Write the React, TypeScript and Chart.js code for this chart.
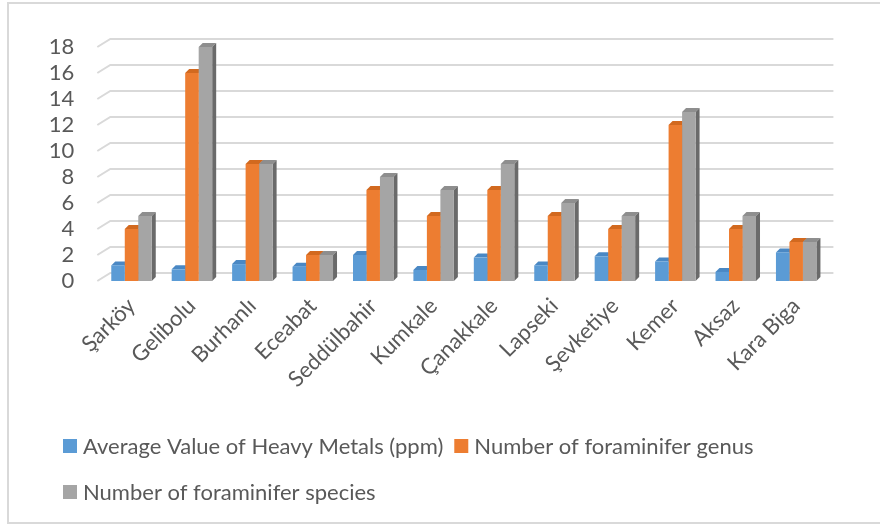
import React, { useEffect, useRef } from "react";
import { Chart, registerables } from "chart.js";
Chart.register(...registerables);

const categories = ["Şarköy", "Gelibolu", "Burhanlı", "Eceabat", "Seddülbahir", "Kumkale", "Çanakkale", "Lapseki", "Şevketiye", "Kemer", "Aksaz", "Kara Biga"];
const heavyMetals = [1.2, 0.9, 1.3, 1.1, 2.0, 0.85, 1.8, 1.2, 1.9, 1.5, 0.7, 2.2];
const genusCount = [4, 16, 9, 2, 7, 5, 7, 5, 4, 12, 4, 3];
const speciesCount = [5, 18, 9, 2, 8, 7, 9, 6, 5, 13, 5, 3];
const yTickValues = [0, 2, 4, 6, 8, 10, 12, 14, 16, 18];
const seriesLabels = ["Average Value of Heavy Metals (ppm)", "Number of foraminifer genus", "Number of foraminifer species"];
const frontColors = ["#5B9BD5", "#ED7D31", "#A5A5A5"];
const topColors = ["#4A88C4", "#D2691F", "#8E8E8E"];
const sideColors = ["#3C6E9E", "#A9541A", "#6A6A6A"];

const FONT = "Lato, 'Open Sans', sans-serif";
const TEXT = "#595959";

const backdropPlugin = {
  id: "backdrop3d",
  beforeDatasetsDraw(chart: any) {
    const { ctx, chartArea, scales } = chart;
    const ys = scales.y;
    ctx.save();
    ctx.strokeStyle = "#d9d9d9";
    ctx.lineWidth = 2;
    for (const v of yTickValues) {
      const y = ys.getPixelForValue(v);
      ctx.beginPath();
      ctx.moveTo(chartArea.left - 4, y);
      ctx.lineTo(chartArea.left + 9, y - 8);
      ctx.lineTo(chartArea.right + 7, y - 8);
      ctx.stroke();
    }
    const dx = 4, dy = 4;
    chart.data.datasets.forEach((ds: any, i: number) => {
      const meta = chart.getDatasetMeta(i);
      meta.data.forEach((el: any) => {
        const p = el.getProps(["x", "y", "width", "base"], true);
        const l = p.x - p.width / 2, r = p.x + p.width / 2, t = p.y, b = p.base;
        ctx.fillStyle = topColors[i];
        ctx.beginPath();
        ctx.moveTo(l, t);
        ctx.lineTo(l + dx, t - dy);
        ctx.lineTo(r + dx, t - dy);
        ctx.lineTo(r, t);
        ctx.closePath();
        ctx.fill();
        ctx.fillStyle = sideColors[i];
        ctx.beginPath();
        ctx.moveTo(r, t);
        ctx.lineTo(r + dx, t - dy);
        ctx.lineTo(r + dx, b - dy);
        ctx.lineTo(r, b);
        ctx.closePath();
        ctx.fill();
      });
    });
    ctx.restore();
  },
  afterDraw(chart: any) {
    const { ctx } = chart;
    ctx.save();
    ctx.strokeStyle = "#d9d9d9";
    ctx.lineWidth = 2;
    ctx.beginPath();
    ctx.moveTo(880, 3);
    ctx.lineTo(8, 3);
    ctx.lineTo(8, 523);
    ctx.lineTo(880, 523);
    ctx.stroke();

    ctx.font = `22px ${FONT}`;
    ctx.fillStyle = TEXT;
    ctx.textBaseline = "middle";
    ctx.textAlign = "left";
    const rows = [
      { y: 446, items: [0, 1] },
      { y: 492, items: [2] },
    ];
    for (const row of rows) {
      let x = 63;
      for (const idx of row.items) {
        ctx.fillStyle = frontColors[idx];
        ctx.fillRect(x, row.y - 7, 14, 14);
        ctx.fillStyle = TEXT;
        ctx.fillText(chart.data.datasets[idx].label, x + 20, row.y + 1);
        x += 20 + ctx.measureText(chart.data.datasets[idx].label).width + 11;
      }
    }
    ctx.restore();
  },
};

export default function App() {
  const ref = useRef<HTMLCanvasElement>(null);
  useEffect(() => {
    if (!ref.current) return;
    const series = [heavyMetals, genusCount, speciesCount];
    const chart = new Chart(ref.current, {
      type: "bar",
      data: {
        labels: categories,
        datasets: series.map((d, i) => ({
          label: seriesLabels[i],
          data: d,
          backgroundColor: frontColors[i],
          borderWidth: 0,
          categoryPercentage: 0.67,
          barPercentage: 1,
          clip: false as any,
        })),
      },
      options: {
        responsive: false,
        animation: false,
        layout: { padding: { top: 47, left: 0, right: 53.6, bottom: 0 } },
        plugins: { legend: { display: false }, tooltip: { enabled: false }, title: { display: false } },
        scales: {
          x: {
            grid: { display: false, drawTicks: false, tickLength: 0 },
            border: { display: false },
            ticks: {
              autoSkip: false,
              minRotation: 45,
              maxRotation: 45,
              padding: 12,
              color: TEXT,
              font: { family: FONT, size: 22 },
            },
            afterFit: (s: any) => { s.height = 244; },
          },
          y: {
            min: 0,
            max: 18,
            grid: { display: false, drawTicks: false, tickLength: 0 },
            border: { display: false },
            afterBuildTicks: (s: any) => { s.ticks = yTickValues.map((v) => ({ value: v })); },
            ticks: {
              autoSkip: false,
              stepSize: 2,
              padding: 27,
              color: TEXT,
              font: { family: FONT, size: 22 },
            },
            afterFit: (s: any) => { s.width = 101.3; },
          },
        },
      },
      plugins: [backdropPlugin],
    });
    return () => chart.destroy();
  }, []);
  return (
    <div style={{ position: "absolute", left: 0, top: 0, width: 880, height: 525, background: "#fff" }}>
      <canvas ref={ref} width={880} height={525} />
    </div>
  );
}
